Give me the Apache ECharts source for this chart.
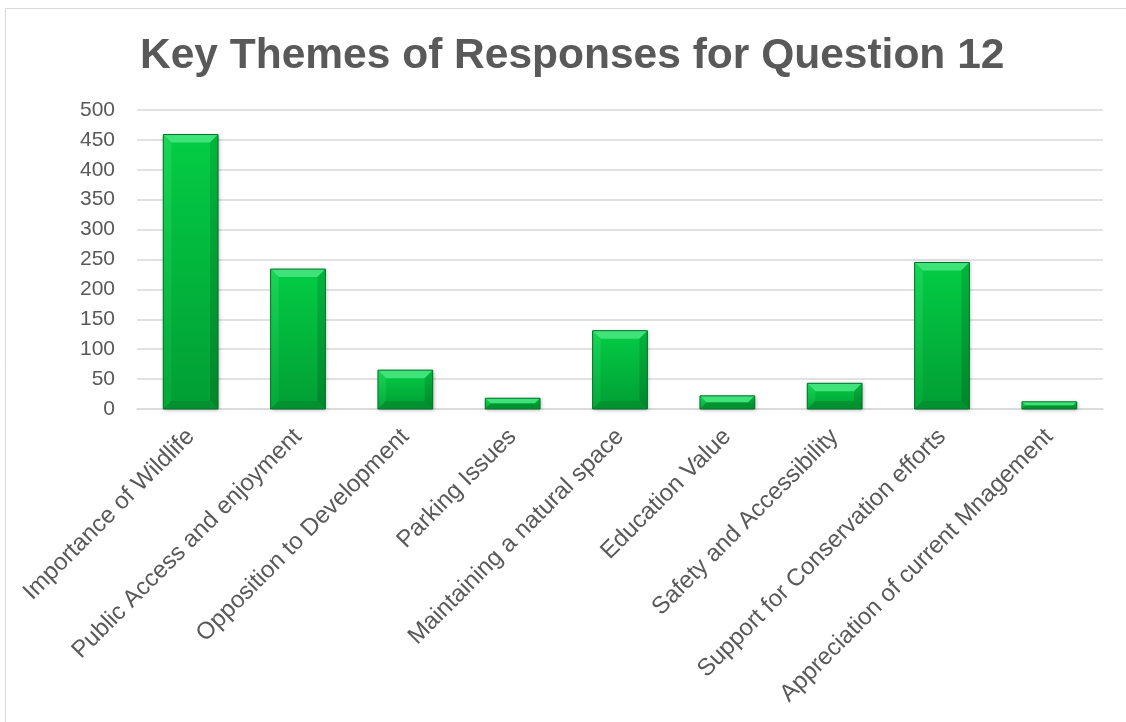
<!DOCTYPE html>
<html><head><meta charset="utf-8">
<script src="https://cdn.jsdelivr.net/npm/echarts@6/dist/echarts.min.js"></script>
<style>html,body{margin:0;padding:0;background:#fff;}#c{width:1126px;height:722px;}</style>
</head><body><div id="c"></div>
<script>
const categories = ["Importance of Wildlife","Public Access and enjoyment","Opposition to Development","Parking Issues","Maintaining a natural space","Education Value","Safety and Accessibility","Support for Conservation efforts","Appreciation of current Mnagement"];
const values = [459, 234, 65, 18, 131, 22, 43, 245, 12];
const yTicks = [0, 50, 100, 150, 200, 250, 300, 350, 400, 450, 500];

const FONT = 'Liberation Sans, Arial, sans-serif';
const chart = echarts.init(document.getElementById('c'));

function renderBevelBar(params, api) {
  const idx = api.value(0), val = api.value(1);
  const top = api.coord([idx, val]);
  const base = api.coord([idx, 0]);
  const w = api.size([1, 0])[0] * 0.51;
  const x0 = top[0] - w / 2, x1 = top[0] + w / 2;
  const y0 = top[1], y1 = base[1];
  const h = y1 - y0;
  const b = Math.min(8, h / 2, w / 2);
  const main = new echarts.graphic.LinearGradient(0, 0, 0, 1, [
    {offset: 0, color: '#03cd44'}, {offset: 1, color: '#019e34'}]);
  return {
    type: 'group',
    children: [
      {type: 'rect', shape: {x: x0, y: y0, width: w, height: h},
        style: {fill: main, shadowColor: 'rgba(0,0,0,0.3)', shadowBlur: 4, shadowOffsetX: 1, shadowOffsetY: 1}},
      {type: 'polygon', shape: {points: [[x0, y0], [x1, y0], [x1 - b, y0 + b], [x0 + b, y0 + b]]},
        style: {fill: '#3fe37a'}},
      {type: 'polygon', shape: {points: [[x0, y0], [x0 + b, y0 + b], [x0 + b, y1 - b], [x0, y1]]},
        style: {fill: new echarts.graphic.LinearGradient(0, 0, 0, 1, [{offset: 0, color: '#18d656'}, {offset: 1, color: '#03a83a'}])}},
      {type: 'polygon', shape: {points: [[x1, y0], [x1 - b, y0 + b], [x1 - b, y1 - b], [x1, y1]]},
        style: {fill: new echarts.graphic.LinearGradient(0, 0, 0, 1, [{offset: 0, color: '#02b53c'}, {offset: 1, color: '#01862b'}])}},
      {type: 'polygon', shape: {points: [[x0, y1], [x0 + b, y1 - b], [x1 - b, y1 - b], [x1, y1]]},
        style: {fill: '#02922f'}},
      {type: 'rect', shape: {x: x0, y: y0, width: w, height: h},
        style: {fill: 'none', stroke: '#01732a', lineWidth: 1}}
    ]
  };
}

chart.setOption({
  animation: false,
  graphic: [{type: 'rect', shape: {x: 5.5, y: 8.5, width: 1200, height: 800},
    style: {fill: 'none', stroke: '#d9d9d9', lineWidth: 1}, silent: true, z: -10}],
  title: {text: 'Key Themes of Responses for Question 12', left: 135, top: 30,
    textStyle: {fontFamily: FONT, fontSize: 42.5, fontWeight: 'bold', color: '#595959'}},
  grid: {left: 137, right: 23, top: 110, bottom: 313},
  xAxis: {type: 'category', data: categories,
    axisLine: {lineStyle: {color: '#d9d9d9', width: 1.5}}, axisTick: {show: false},
    axisLabel: {rotate: 45, interval: 0, fontFamily: FONT, fontSize: 24, color: '#595959', margin: 24}},
  yAxis: {type: 'value', min: yTicks[0], max: yTicks[yTicks.length - 1], interval: 50,
    axisLine: {show: false}, axisTick: {show: false},
    splitLine: {lineStyle: {color: '#d9d9d9', width: 1.5}},
    axisLabel: {fontFamily: FONT, fontSize: 21, color: '#595959', margin: 22}},
  series: [{type: 'custom', renderItem: renderBevelBar,
    encode: {x: 0, y: 1},
    data: values.map((v, i) => [i, v])}]
});
</script></body></html>
